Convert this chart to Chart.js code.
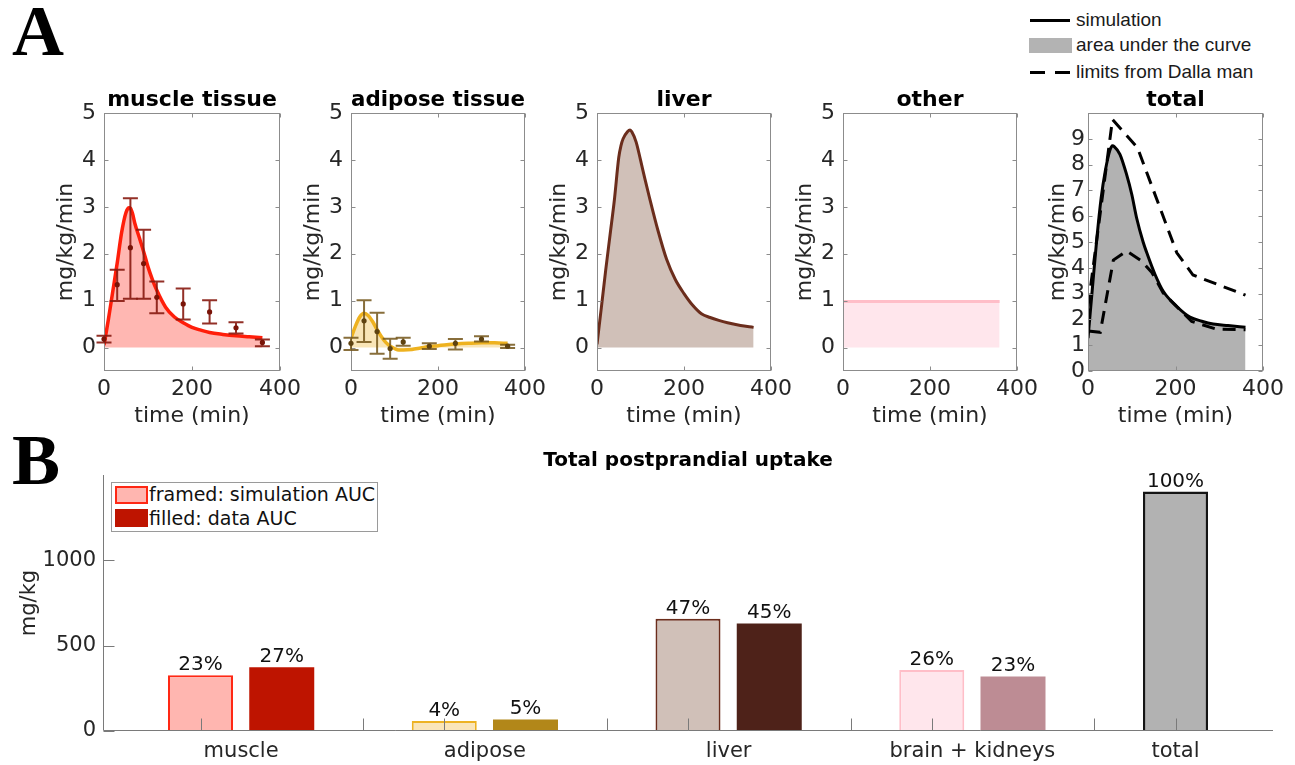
<!DOCTYPE html>
<html>
<head>
<meta charset="utf-8">
<script src="https://cdn.jsdelivr.net/npm/chart.js@4.4.1/dist/chart.umd.min.js"></script>
<style>
  body { margin: 0; background: #fff; }
  #page { position: relative; width: 1295px; height: 765px; overflow: hidden; font-family: 'DejaVu Sans', sans-serif; }
  canvas { position: absolute; }
  .letter { position: absolute; font-family: 'Liberation Serif', serif; font-weight: bold; font-size: 72px; line-height: 72px; color: #000; }
  .tl { position: absolute; font-family: 'Liberation Sans', Arial, sans-serif; font-size: 19px; line-height: 20px; color: #1a1a1a; white-space: nowrap; }
  .sw { position: absolute; }
  #legB { position: absolute; left: 111px; top: 482px; width: 265px; height: 48px; border: 1px solid #9a9a9a; background: #fff; }
  #legB .lt { position: absolute; left: 37px; font-size: 19px; line-height: 22px; color: #111; white-space: nowrap; }
</style>
</head>
<body>
<div id="page">
  <div class="letter" style="left:12px;top:-5px">A</div>
  <div class="letter" style="left:12px;top:424px">B</div>

  <!-- legend of the total panel -->
  <div class="sw" style="left:1030px;top:18.5px;width:40px;height:3px;background:#000"></div>
  <div class="tl" style="left:1076px;top:10px">simulation</div>
  <div class="sw" style="left:1029px;top:38px;width:43px;height:15px;background:#b3b3b3"></div>
  <div class="tl" style="left:1076px;top:35px">area under the curve</div>
  <div class="sw" style="left:1030px;top:70.5px;width:15px;height:3px;background:#000"></div>
  <div class="sw" style="left:1055px;top:70.5px;width:15px;height:3px;background:#000"></div>
  <div class="tl" style="left:1076px;top:62px">limits from Dalla man</div>
</div>

<script>
// ---------- panel A: uptake rates (mg/kg/min) over time (min) ----------
const timeTicks = [0, 200, 400];

const muscleSimT = [0, 10, 20, 30, 40, 50, 57, 60, 65, 70, 80, 90, 100, 110, 120, 140, 160, 180, 200, 220, 240, 270, 300, 330, 360];
const muscleSim  = [0.05, 0.6, 1.2, 1.8, 2.45, 2.88, 2.98, 2.97, 2.85, 2.65, 2.35, 2.05, 1.72, 1.45, 1.22, 0.86, 0.65, 0.53, 0.43, 0.37, 0.32, 0.28, 0.25, 0.23, 0.21];

const dataT = [0, 30, 60, 90, 120, 180, 240, 300, 360];
const muscleMean = [0.18, 1.34, 2.13, 1.79, 1.07, 0.93, 0.76, 0.42, 0.11];
const muscleLo   = [0.11, 0.99, 1.04, 1.04, 0.73, 0.60, 0.51, 0.30, 0.03];
const muscleHi   = [0.25, 1.66, 3.18, 2.51, 1.41, 1.26, 1.01, 0.54, 0.17];

const adiposeSimT = [0, 10, 20, 30, 40, 50, 60, 70, 80, 90, 100, 110, 120, 140, 160, 180, 200, 220, 240, 270, 300, 330, 360];
const adiposeSim  = [0.2, 0.45, 0.65, 0.73, 0.68, 0.55, 0.38, 0.23, 0.11, 0.03, -0.02, -0.05, -0.05, -0.04, -0.01, 0.02, 0.04, 0.06, 0.075, 0.09, 0.1, 0.1, 0.09];
const adiposeMean = [0.09, 0.57, 0.34, -0.02, 0.12, 0.03, 0.09, 0.18, 0.03];
const adiposeLo   = [-0.05, 0.12, -0.13, -0.24, 0.04, -0.03, -0.04, 0.13, -0.01];
const adiposeHi   = [0.21, 1.01, 0.74, 0.19, 0.21, 0.09, 0.18, 0.24, 0.06];

const liverSimT = [0, 10, 20, 30, 40, 50, 55, 60, 70, 76, 80, 90, 100, 110, 120, 140, 160, 180, 200, 220, 240, 260, 280, 300, 330, 360];
const liverSim  = [0.07, 0.85, 1.65, 2.4, 3.15, 4.05, 4.3, 4.45, 4.6, 4.64, 4.6, 4.38, 4.0, 3.6, 3.22, 2.5, 1.88, 1.45, 1.15, 0.9, 0.72, 0.64, 0.58, 0.53, 0.47, 0.43];

const otherSimT = [0, 360];
const otherSim  = [0.98, 0.98];

const totalSimT = [0, 10, 20, 30, 40, 50, 56, 60, 73, 88, 100, 111, 126, 134, 153, 172, 203, 233, 260, 286, 320, 360];
const totalSim  = [1.27, 3.2, 5.1, 6.7, 7.8, 8.55, 8.73, 8.7, 8.4, 7.63, 6.85, 5.94, 5.0, 4.6, 3.75, 3.09, 2.5, 2.09, 1.93, 1.82, 1.76, 1.7];
const upperT = [0, 56, 113, 203, 240, 360];
const upperLimit = [2.5, 9.75, 8.66, 4.58, 3.72, 2.94];
const lowerT = [0, 28, 58, 88, 122, 146, 172, 237, 294, 360];
const lowerLimit = [1.55, 1.5, 4.3, 4.65, 4.27, 3.82, 3.02, 1.92, 1.62, 1.6];

// ---------- panel B: total postprandial uptake (mg/kg) ----------
const tissues = ['muscle', 'adipose', 'liver', 'brain + kidneys', 'total'];
const simAUC  = [326, 58, 657, 358];
const dataAUC = [374, 68, 630, 320];
const totalAUC = 1403;
const simPct  = ['23%', '4%', '47%', '26%'];
const dataPct = ['27%', '5%', '45%', '23%'];
const totalPct = '100%';
const simX  = [1, 4, 7, 10];
const dataX = [2, 5, 8, 11];
const totalX = 13;
const labelX = [1.5, 4.5, 7.5, 10.5, 13];
const markX = [1, 3, 4, 6, 7, 9, 10, 12, 13];
const aucTicks = [0, 500, 1000];

// ---------- styling ----------
const FONT = 'DejaVu Sans';
const TXT = '#262626';
const AX = '#8c8c8c';
const page = document.getElementById('page');

const pts = (t, v) => t.map((x, i) => ({ x, y: v[i] }));
const noGrid = { display: false, drawTicks: false };

const frameTicks = {
  id: 'frameTicks',
  afterDatasetsDraw(chart) {
    const { ctx, chartArea: a, scales: { x, y } } = chart;
    const L = Math.round(a.left) + 0.5, R = Math.round(a.right) - 0.5;
    const T = Math.round(a.top) + 0.5, B = Math.round(a.bottom) - 0.5;
    ctx.save();
    ctx.strokeStyle = AX;
    ctx.lineWidth = 1;
    ctx.strokeRect(L, T, R - L, B - T);
    ctx.beginPath();
    x.ticks.forEach(t => {
      const px = Math.round(x.getPixelForValue(t.value)) + 0.5;
      ctx.moveTo(px, B); ctx.lineTo(px, B - 4);
      ctx.moveTo(px, T); ctx.lineTo(px, T + 4);
    });
    y.ticks.forEach(t => {
      const py = Math.round(y.getPixelForValue(t.value)) + 0.5;
      ctx.moveTo(L, py); ctx.lineTo(L + 4, py);
      ctx.moveTo(R, py); ctx.lineTo(R - 4, py);
    });
    ctx.stroke();
    ctx.restore();
  }
};

function errorBars(t, mean, lo, hi, color, dot) {
  return {
    id: 'errorBars',
    afterDatasetsDraw(chart) {
      const { ctx, scales: { x, y } } = chart;
      ctx.save();
      ctx.strokeStyle = color;
      ctx.lineWidth = 2;
      t.forEach((tv, i) => {
        const px = x.getPixelForValue(tv);
        const pl = y.getPixelForValue(lo[i]), ph = y.getPixelForValue(hi[i]);
        ctx.beginPath();
        ctx.moveTo(px, pl); ctx.lineTo(px, ph);
        ctx.moveTo(px - 7.5, pl); ctx.lineTo(px + 7.5, pl);
        ctx.moveTo(px - 7.5, ph); ctx.lineTo(px + 7.5, ph);
        ctx.stroke();
      });
      ctx.fillStyle = dot;
      t.forEach((tv, i) => {
        ctx.beginPath();
        ctx.arc(x.getPixelForValue(tv), y.getPixelForValue(mean[i]), 2.6, 0, Math.PI * 2);
        ctx.fill();
      });
      ctx.restore();
    }
  };
}

const Y_W = 80, PAD_R = 25, TOP_H = 28, PLOT_TOP = 113, PLOT_H = 258, X_H = 60;

function panel(p) {
  const c = document.createElement('canvas');
  const w = Y_W + (p.R - p.L) + PAD_R, h = TOP_H + PLOT_H + X_H;
  c.width = w; c.height = h;
  c.style.left = (p.L - Y_W) + 'px';
  c.style.top = (PLOT_TOP - TOP_H) + 'px';
  c.style.width = w + 'px';
  c.style.height = h + 'px';
  page.appendChild(c);
  new Chart(c, {
    type: 'line',
    data: { datasets: p.datasets },
    options: {
      responsive: false,
      animation: false,
      devicePixelRatio: 1,
      layout: { padding: { left: 0, right: PAD_R, top: 0, bottom: 0 } },
      elements: { point: { radius: 0 } },
      plugins: {
        legend: { display: false },
        tooltip: { enabled: false },
        title: {
          display: true, text: p.title, color: '#000', fullSize: false,
          font: { family: FONT, size: 22, weight: 'bold' },
          padding: { top: 1.6, bottom: 0 }
        }
      },
      scales: {
        x: {
          type: 'linear', min: 0, max: 400,
          grid: noGrid, border: { display: false },
          afterBuildTicks: s => { s.ticks = timeTicks.map(v => ({ value: v })); },
          afterFit: s => { s.height = X_H; s.paddingLeft = 0; s.paddingRight = 0; },
          ticks: { color: TXT, font: { family: FONT, size: 22 }, padding: 5, maxRotation: 0, autoSkip: false },
          title: { display: true, text: 'time (min)', color: TXT, font: { family: FONT, size: 22 }, padding: { top: 0, bottom: 2 } }
        },
        y: {
          type: 'linear', min: p.yMin, max: p.yMax,
          grid: noGrid, border: { display: false },
          afterBuildTicks: s => { s.ticks = p.yTicks.map(v => ({ value: v })); },
          afterFit: s => { s.width = Y_W; s.paddingTop = 0; s.paddingBottom = 0; },
          ticks: { color: TXT, font: { family: FONT, size: 22 }, padding: p.tickPad, autoSkip: false },
          title: { display: true, text: 'mg/kg/min', color: TXT, font: { family: FONT, size: 22 }, padding: { top: p.titlePad, bottom: 0 } }
        }
      }
    },
    plugins: [frameTicks].concat(p.extra || [])
  });
}

const smooth = { cubicInterpolationMode: 'monotone', pointRadius: 0 };
const fiveTicks = [0, 1, 2, 3, 4, 5];

panel({
  L: 104, R: 280, title: 'muscle tissue', yMin: -0.5, yMax: 5, yTicks: fiveTicks, tickPad: 8, titlePad: 29.3,
  datasets: [Object.assign({ data: pts(muscleSimT, muscleSim), borderColor: '#ff1e0a', borderWidth: 3.5,
    fill: 'origin', backgroundColor: '#ffb7b2' }, smooth)],
  extra: [errorBars(dataT, muscleMean, muscleLo, muscleHi, 'rgba(135,25,15,0.9)', '#7a1408')]
});

panel({
  L: 351, R: 525, title: 'adipose tissue', yMin: -0.5, yMax: 5, yTicks: fiveTicks, tickPad: 8, titlePad: 29.3,
  datasets: [Object.assign({ data: pts(adiposeSimT, adiposeSim), borderColor: '#eeb220', borderWidth: 3.5,
    fill: 'origin', backgroundColor: '#f9e5b7' }, smooth)],
  extra: [errorBars(dataT, adiposeMean, adiposeLo, adiposeHi, 'rgba(115,85,25,0.85)', '#5e4210')]
});

panel({
  L: 597, R: 771, title: 'liver', yMin: -0.5, yMax: 5, yTicks: fiveTicks, tickPad: 8, titlePad: 29.3,
  datasets: [Object.assign({ data: pts(liverSimT, liverSim), borderColor: '#6b2d1c', borderWidth: 3,
    fill: 'origin', backgroundColor: '#d0c0b8' }, smooth)]
});

panel({
  L: 843, R: 1017, title: 'other', yMin: -0.5, yMax: 5, yTicks: fiveTicks, tickPad: 8, titlePad: 29.3,
  datasets: [{ data: pts(otherSimT, otherSim), borderColor: '#ffbec8', borderWidth: 3,
    fill: 'origin', backgroundColor: '#ffe6ec', pointRadius: 0, tension: 0 }]
});

panel({
  L: 1088, R: 1263, title: 'total', yMin: 0, yMax: 10, yTicks: [0, 1, 2, 3, 4, 5, 6, 7, 8, 9], tickPad: 3, titlePad: 36.8,
  datasets: [
    Object.assign({ data: pts(totalSimT, totalSim), borderColor: '#000', borderWidth: 3,
      fill: 'origin', backgroundColor: '#b2b2b2', order: 3 }, smooth),
    { data: pts(upperT, upperLimit), borderColor: '#000', borderWidth: 3, borderDash: [13, 8], fill: false, pointRadius: 0, tension: 0, order: 1 },
    { data: pts(lowerT, lowerLimit), borderColor: '#000', borderWidth: 3, borderDash: [13, 8], fill: false, pointRadius: 0, tension: 0, order: 2 }
  ]
});

// ---------- panel B ----------
const simFill  = ['#ffb6b0', '#fae5b9', '#d0c0b8', '#ffe6ec'];
const simEdge  = ['#ff2814', '#edb223', '#6b2d1c', '#ffbec8'];
const dataFill = ['#be1400', '#b28719', '#4e2219', '#bd8c94'];

const barPts = [], barFill = [], barEdge = [], barBW = [], barLbl = [];
simAUC.forEach((v, i) => {
  barPts.push({ x: simX[i], y: v }); barFill.push(simFill[i]); barEdge.push(simEdge[i]); barBW.push(2); barLbl.push(simPct[i]);
  barPts.push({ x: dataX[i], y: dataAUC[i] }); barFill.push(dataFill[i]); barEdge.push(dataFill[i]); barBW.push(0); barLbl.push(dataPct[i]);
});
barPts.push({ x: totalX, y: totalAUC }); barFill.push('#b2b2b2'); barEdge.push('#141414'); barBW.push(2.5); barLbl.push(totalPct);

const axesB = {
  id: 'axesB',
  afterDatasetsDraw(chart) {
    const { ctx, chartArea: a, scales: { x, y } } = chart;
    const L = Math.round(a.left) + 0.5, B = Math.round(a.bottom) - 0.5;
    ctx.save();
    ctx.strokeStyle = '#7a7a7a';
    ctx.lineWidth = 1;
    ctx.beginPath();
    ctx.moveTo(L, Math.round(a.top)); ctx.lineTo(L, B); ctx.lineTo(Math.round(a.right), B);
    aucTicks.forEach(v => { const py = Math.round(y.getPixelForValue(v)) + 0.5; ctx.moveTo(L, py); ctx.lineTo(L + 11, py); });
    markX.forEach(v => { const px = Math.round(x.getPixelForValue(v)) + 0.5; ctx.moveTo(px, B); ctx.lineTo(px, B - 12); });
    ctx.stroke();
    // percentage labels above bars
    ctx.fillStyle = '#111';
    ctx.font = '20px "' + FONT + '"';
    ctx.textAlign = 'center';
    ctx.textBaseline = 'alphabetic';
    chart.getDatasetMeta(0).data.forEach((el, i) => { ctx.fillText(barLbl[i], el.x, el.y - 5); });
    ctx.restore();
  }
};

(function () {
  const c = document.createElement('canvas');
  c.width = 1295; c.height = 325;
  c.style.left = '0px'; c.style.top = '440px';
  c.style.width = '1295px'; c.style.height = '325px';
  page.appendChild(c);
  new Chart(c, {
    type: 'bar',
    data: { datasets: [{ data: barPts, backgroundColor: barFill, borderColor: barEdge, borderWidth: barBW,
      barPercentage: 0.8, categoryPercentage: 1.0 }] },
    options: {
      responsive: false,
      animation: false,
      devicePixelRatio: 1,
      layout: { padding: { left: 0, right: 22, top: 0, bottom: 0 } },
      plugins: {
        legend: { display: false },
        tooltip: { enabled: false },
        title: {
          display: true, text: 'Total postprandial uptake', color: '#000', fullSize: false,
          font: { family: FONT, size: 20, weight: 'bold' },
          padding: { top: 9, bottom: 2 }
        }
      },
      scales: {
        x: {
          type: 'linear', min: -0.2, max: 14.2, offset: false,
          grid: noGrid, border: { display: false },
          afterBuildTicks: s => { s.ticks = labelX.map(v => ({ value: v })); },
          afterFit: s => { s.height = 34; s.paddingLeft = 0; s.paddingRight = 0; },
          ticks: { color: TXT, font: { family: FONT, size: 21 }, padding: 8, maxRotation: 0, autoSkip: false,
            callback: (v, i) => tissues[i] }
        },
        y: {
          type: 'linear', min: 0, max: 1500,
          grid: noGrid, border: { display: false },
          afterBuildTicks: s => { s.ticks = aucTicks.map(v => ({ value: v })); },
          afterFit: s => { s.width = 103; s.paddingTop = 0; s.paddingBottom = 0; },
          ticks: { color: TXT, font: { family: FONT, size: 21 }, padding: 7, autoSkip: false, callback: v => String(v) },
          title: { display: true, text: 'mg/kg', color: TXT, font: { family: FONT, size: 21 }, padding: { top: 17.4, bottom: 0 } }
        }
      }
    },
    plugins: [axesB]
  });

  // legend of panel B
  const leg = document.createElement('div');
  leg.id = 'legB';
  leg.innerHTML =
    '<div class="sw" style="left:3px;top:3px;width:29px;height:14px;background:#ffb6b0;border:2px solid #ff2814"></div>' +
    '<div class="lt" style="top:0px">framed: simulation AUC</div>' +
    '<div class="sw" style="left:3px;top:26px;width:33px;height:18px;background:#be1400"></div>' +
    '<div class="lt" style="top:24px">filled: data AUC</div>';
  page.appendChild(leg);
})();
</script>
</body>
</html>
